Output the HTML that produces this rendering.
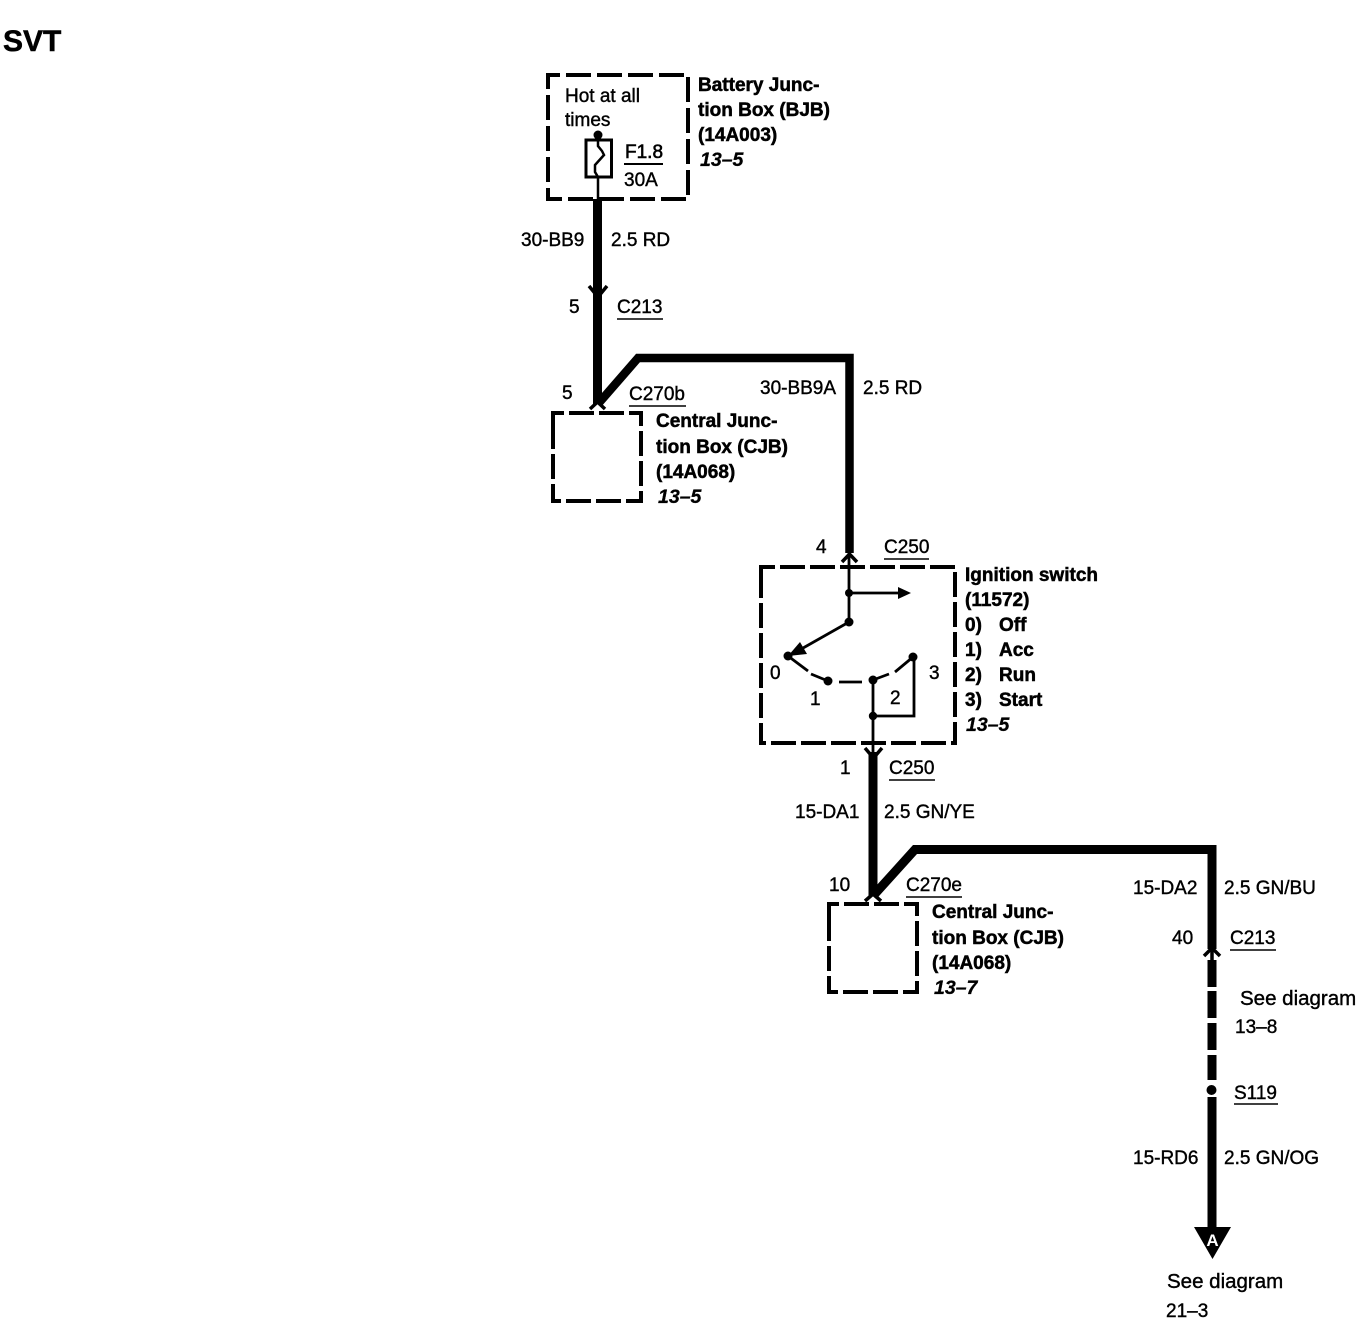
<!DOCTYPE html>
<html><head><meta charset="utf-8"><style>
html,body{margin:0;padding:0;background:#fff}
svg{display:block}
text{font-family:"Liberation Sans",sans-serif;font-size:19px;fill:#000;stroke:#000;stroke-width:.4px}
.b{font-weight:bold;font-size:19px;stroke-width:.5px}
.i{font-weight:bold;font-style:italic;font-size:19.500px;stroke-width:.3px}
.s{font-size:20.500px}
</style></head><body>
<svg width="1360" height="1328" viewBox="0 0 1360 1328" xmlns="http://www.w3.org/2000/svg">
<text x="3" y="51" style="font-size:30px;font-weight:bold;stroke-width:.5px">SVT</text>

<g fill="none" stroke="#000" stroke-width="4" stroke-dasharray="25 6">
<path d="M548 88V75H688V199H548V88"/>
</g>
<g fill="none" stroke="#000" stroke-width="4" stroke-dasharray="25 5">
<path d="M553 427V413H641V501H553V427"/>
<path d="M761 578V567H955V743H761V578"/>
<path d="M829 919V904H917V992H829V919"/>
</g>

<!-- Fuse -->
<circle cx="598" cy="135" r="4.500"/>
<rect x="586" y="140" width="25.500" height="37" fill="none" stroke="#000" stroke-width="3"/>
<path d="M598 137V146L602 151 604 155 595 165V172L598 177V199" fill="none" stroke="#000" stroke-width="2.500"/>
<line x1="624" y1="164" x2="663" y2="164" stroke="#000" stroke-width="2"/>

<!-- Thick wires -->
<g fill="none" stroke="#000" stroke-width="9">
<path d="M597.500 199V404"/>
<path d="M598 404L638 358H849.500V553" stroke-width="8.500"/>
<path d="M873 752V896"/>
<path d="M873 896L915 849.500H1212V949"/>
<path d="M1212 960V987M1212 991V1018M1212 1023V1050M1212 1055V1080M1212 1097V1232"/>
</g>
<!-- Connector marks -->
<g fill="none" stroke="#000" stroke-width="3.500">
<path d="M589 286L598 297 607 286"/>
<path d="M590 409L597.500 402 605 409"/>
<path d="M842 562L849.500 554 857 562"/>
<path d="M865 748L873.500 758 882 748"/>
<path d="M865 901L873 894 881 901"/>
<path d="M1204 956L1212 948 1220 956"/>
<path d="M1212 947V961"/>
</g>
<circle cx="1211.500" cy="1090" r="5"/>

<!-- Ignition switch -->
<g fill="none" stroke="#000" stroke-width="2.800">
<path d="M849 552V622"/>
<path d="M849 593H898"/>
<path d="M849 622L796 652"/>
<path d="M873 680V752"/>
<path d="M873 716H914V657"/>
<path d="M788 656L808 671"/>
<path d="M811 674L828 681"/>
<path d="M839 682H862"/>
<path d="M873 680L889 674"/>
<path d="M895 672L913 657"/>
</g>
<polygon points="911,593 898,587 898,599"/>
<polygon points="788,656 807,654 800,642"/>
<g>
<circle cx="849" cy="593" r="4"/><circle cx="849" cy="622" r="4.500"/>
<circle cx="788" cy="656" r="4.500"/><circle cx="828" cy="681" r="4.500"/>
<circle cx="873" cy="680" r="4.500"/><circle cx="913" cy="657" r="4.500"/>
<circle cx="873" cy="716" r="4.200"/>
</g>

<!-- Underlines -->
<g stroke="#000" stroke-width="1.500">
<line x1="617" y1="319" x2="663" y2="319"/>
<line x1="629" y1="406" x2="686" y2="406"/>
<line x1="884" y1="559" x2="929" y2="559"/>
<line x1="889" y1="780" x2="935" y2="780"/>
<line x1="906" y1="897" x2="962" y2="897"/>
<line x1="1230" y1="950" x2="1276" y2="950"/>
<line x1="1234" y1="1104" x2="1278" y2="1104"/>
</g>

<!-- Triangle -->
<polygon points="1194,1227 1231,1227 1212.500,1259"/>
<text x="1212.500" y="1246" text-anchor="middle" style="font-size:17px;font-weight:bold;fill:#fff;stroke:none">A</text>

<!-- Labels -->
<text x="565" y="102">Hot at all</text>
<text x="565" y="126">times</text>
<text x="625" y="158" style="stroke-width:.6px">F1.8</text>
<text x="624" y="186">30A</text>
<text x="698" y="91" class="b">Battery Junc-</text>
<text x="698" y="116" class="b">tion Box (BJB)</text>
<text x="698" y="141" class="b">(14A003)</text>
<text x="700" y="166" class="i">13–5</text>

<text x="521" y="246">30-BB9</text>
<text x="611" y="246">2.5 RD</text>
<text x="569" y="313">5</text>
<text x="617" y="313">C213</text>
<text x="562" y="399">5</text>
<text x="629" y="400">C270b</text>
<text x="760" y="394">30-BB9A</text>
<text x="863" y="394">2.5 RD</text>

<text x="656" y="427" class="b">Central Junc-</text>
<text x="656" y="453" class="b">tion Box (CJB)</text>
<text x="656" y="478" class="b">(14A068)</text>
<text x="658" y="503" class="i">13–5</text>

<text x="816" y="553">4</text>
<text x="884" y="553">C250</text>
<text x="965" y="581" class="b">Ignition switch</text>
<text x="965" y="606" class="b">(11572)</text>
<text x="965" y="631" class="b">0)</text><text x="999" y="631" class="b">Off</text>
<text x="965" y="656" class="b">1)</text><text x="999" y="656" class="b">Acc</text>
<text x="965" y="681" class="b">2)</text><text x="999" y="681" class="b">Run</text>
<text x="965" y="706" class="b">3)</text><text x="999" y="706" class="b">Start</text>
<text x="966" y="731" class="i">13–5</text>
<text x="770" y="679">0</text>
<text x="810" y="705">1</text>
<text x="890" y="704">2</text>
<text x="929" y="679">3</text>

<text x="840" y="774">1</text>
<text x="889" y="774">C250</text>
<text x="795" y="818">15-DA1</text>
<text x="884" y="818">2.5 GN/YE</text>

<text x="829" y="891">10</text>
<text x="906" y="891">C270e</text>
<text x="932" y="918" class="b">Central Junc-</text>
<text x="932" y="944" class="b">tion Box (CJB)</text>
<text x="932" y="969" class="b">(14A068)</text>
<text x="934" y="994" class="i">13–7</text>

<text x="1133" y="894">15-DA2</text>
<text x="1224" y="894">2.5 GN/BU</text>
<text x="1172" y="944">40</text>
<text x="1230" y="944">C213</text>
<text x="1240" y="1005" class="s">See diagram</text>
<text x="1235" y="1033">13–8</text>
<text x="1234" y="1099">S119</text>
<text x="1133" y="1164">15-RD6</text>
<text x="1224" y="1164">2.5 GN/OG</text>
<text x="1167" y="1288" class="s">See diagram</text>
<text x="1166" y="1317">21–3</text>
</svg>
</body></html>
